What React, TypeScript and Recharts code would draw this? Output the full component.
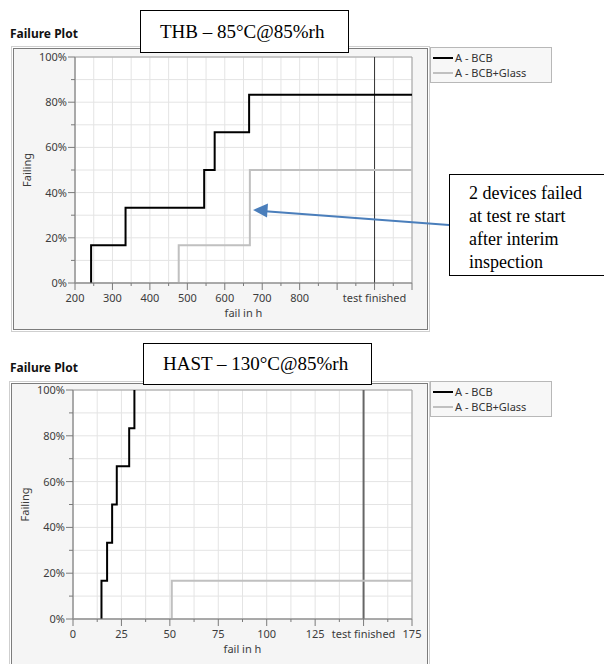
import React from "react";
import {
  LineChart,
  Line,
  XAxis,
  YAxis,
  CartesianGrid,
  ReferenceLine,
  ReferenceArea,
} from "recharts";

// THB 85°C@85%rh - cumulative failing (%) over hours
const thbBcbHours = [243, 243, 335, 545, 573, 665, 1100];
const thbBcbFailing = [0, 16.7, 33.3, 50, 66.7, 83.3, 83.3];
const thbGlassHours = [200, 477, 667, 1100];
const thbGlassFailing = [0, 16.7, 50, 50];
const thbTicks = [200, 250, 300, 350, 400, 450, 500, 550, 600, 650, 700, 750, 800, 850, 900, 950, 1000, 1050, 1100];
const thbLabelValues = [200, 300, 400, 500, 600, 700, 800, 1000];
const thbLabelTexts = ["200", "300", "400", "500", "600", "700", "800", "test finished"];

// HAST 130°C@85%rh
const hastBcbHours = [14.7, 14.7, 17.6, 20.2, 22.6, 29, 31.7];
const hastBcbFailing = [0, 16.7, 33.3, 50, 66.7, 83.3, 100];
const hastGlassHours = [0, 51, 175];
const hastGlassFailing = [0, 16.7, 16.7];
const hastTicks = [0, 12.5, 25, 37.5, 50, 62.5, 75, 87.5, 100, 112.5, 125, 137.5, 150, 162.5, 175];
const hastLabelValues = [0, 25, 50, 75, 100, 125, 150, 175];
const hastLabelTexts = ["0", "25", "50", "75", "100", "125", "test finished", "175"];

const failingTicks = [0, 10, 20, 30, 40, 50, 60, 70, 80, 90, 100];
const failingLabelValues = [0, 20, 40, 60, 80, 100];
const failingLabelTexts = ["0%", "20%", "40%", "60%", "80%", "100%"];

const seriesNames = ["A - BCB", "A - BCB+Glass"];
const seriesColors = ["#000000", "#c0c0c0"];

const FONT = "'Noto Sans', 'Open Sans', sans-serif";
const SERIF = "'Liberation Serif', 'DejaVu Serif', serif";

const toPoints = (hours: number[], failing: number[]) =>
  hours.map((h, i) => ({ h, f: failing[i] }));

const labelFor = (values: number[], texts: string[], v: number) => {
  const i = values.indexOf(v);
  return i >= 0 ? texts[i] : "";
};

function makeXTick(values: number[], texts: string[], majorStep: number) {
  return (props: any) => {
    const { x, y, payload } = props;
    const v = payload.value;
    const major = Math.abs(v / majorStep - Math.round(v / majorStep)) < 1e-6;
    const txt = labelFor(values, texts, v);
    return (
      <g>
        <line x1={x} x2={x} y1={y} y2={y + (major ? 7 : 3)} stroke="#7a7a7a" />
        {txt && (
          <text x={x} y={y + 19} textAnchor="middle" fontSize={11} fill="#3c3c3c" fontFamily={FONT}>
            {txt}
          </text>
        )}
      </g>
    );
  };
}

const yTick = (props: any) => {
  const { x, y, payload } = props;
  const v = payload.value;
  const major = v % 20 === 0;
  const txt = labelFor(failingLabelValues, failingLabelTexts, v);
  return (
    <g>
      <line x1={x - (major ? 7 : 4)} x2={x} y1={y} y2={y} stroke="#7a7a7a" />
      {txt && (
        <text x={x - 8} y={y + 4} textAnchor="end" fontSize={11} fill="#3c3c3c" fontFamily={FONT}>
          {txt}
        </text>
      )}
    </g>
  );
};

const failingTitle = (props: any) => {
  const vb = props.viewBox;
  const cx = vb.x - 4;
  const cy = vb.y + vb.height / 2;
  return (
    <text
      x={cx}
      y={cy}
      transform={`rotate(-90 ${cx} ${cy})`}
      textAnchor="middle"
      dominantBaseline="central"
      fontSize={11}
      fill="#3c3c3c"
      fontFamily={FONT}
    >
      Failing
    </text>
  );
};

const hoursTitle = (props: any) => {
  const vb = props.viewBox;
  return (
    <text
      x={vb.x + vb.width / 2}
      y={vb.y + 34}
      textAnchor="middle"
      fontSize={11}
      fill="#3c3c3c"
      fontFamily={FONT}
    >
      fail in h
    </text>
  );
};

interface PlotProps {
  left: number;
  top: number;
  width: number;
  height: number;
  margin: { top: number; right: number; bottom: number; left: number };
  domain: [number, number];
  ticks: number[];
  labelValues: number[];
  labelTexts: string[];
  majorStep: number;
  bcb: { h: number; f: number }[];
  glass: { h: number; f: number }[];
  finishAt: number;
  finishWidth: number;
  finishColor: string;
}

function FailurePlot(p: PlotProps) {
  return (
    <div style={{ position: "absolute", left: p.left, top: p.top }}>
      <LineChart width={p.width} height={p.height} margin={p.margin}>
        <CartesianGrid stroke="#e4e4e4" fill="#ffffff" />
        <XAxis
          type="number"
          dataKey="h"
          domain={p.domain}
          ticks={p.ticks}
          allowDataOverflow
          height={30}
          tickSize={0}
          tickMargin={0}
          tickLine={false}
          axisLine={{ stroke: "#8a8a8a" }}
          tick={makeXTick(p.labelValues, p.labelTexts, p.majorStep)}
          interval={0}
          label={hoursTitle}
        />
        <YAxis
          type="number"
          dataKey="f"
          domain={[0, 100]}
          ticks={failingTicks}
          width={45}
          tickSize={0}
          tickMargin={0}
          tickLine={false}
          axisLine={{ stroke: "#8a8a8a" }}
          tick={yTick}
          interval={0}
          label={failingTitle}
        />
        <ReferenceArea
          x1={p.domain[0]}
          x2={p.domain[1]}
          y1={0}
          y2={100}
          fill="none"
          stroke="#a0a0a0"
        />
        <ReferenceLine x={p.finishAt} stroke={p.finishColor} strokeWidth={p.finishWidth} />
        <Line
          data={p.glass}
          dataKey="f"
          type="stepAfter"
          stroke={seriesColors[1]}
          strokeWidth={2}
          dot={false}
          isAnimationActive={false}
          name={seriesNames[1]}
        />
        <Line
          data={p.bcb}
          dataKey="f"
          type="stepAfter"
          stroke={seriesColors[0]}
          strokeWidth={2}
          dot={false}
          isAnimationActive={false}
          name={seriesNames[0]}
        />
      </LineChart>
    </div>
  );
}

function Frame({ left, top, width, height }: { left: number; top: number; width: number; height: number }) {
  return (
    <div
      style={{
        position: "absolute",
        left,
        top,
        width,
        height,
        boxSizing: "border-box",
        border: "1px solid #cfcfcf",
        padding: 1,
      }}
    >
      <div
        style={{
          width: "100%",
          height: "100%",
          boxSizing: "border-box",
          border: "1px solid #7c7c7c",
          background: "#f5f5f5",
        }}
      />
    </div>
  );
}

function LegendBox({ left, top }: { left: number; top: number }) {
  return (
    <div
      style={{
        position: "absolute",
        left,
        top,
        width: 122,
        height: 36,
        boxSizing: "border-box",
        border: "1px solid #b8b8b8",
        background: "#f7f7f7",
        fontFamily: FONT,
        fontSize: 11,
        color: "#333",
        paddingTop: 2,
      }}
    >
      {seriesNames.map((n, i) => (
        <div key={n} style={{ display: "flex", alignItems: "center", height: 15 }}>
          <span
            style={{
              display: "inline-block",
              width: 20,
              height: 0,
              borderTop: `2px solid ${seriesColors[i]}`,
              marginLeft: 2,
              marginRight: 2,
            }}
          />
          <span>{n}</span>
        </div>
      ))}
    </div>
  );
}

function TitleBox({ left, top, width, height, text }: { left: number; top: number; width: number; height: number; text: string }) {
  return (
    <div
      style={{
        position: "absolute",
        left,
        top,
        width,
        height,
        boxSizing: "border-box",
        border: "1.5px solid #000",
        background: "#fff",
        fontFamily: SERIF,
        fontSize: 19,
        display: "flex",
        alignItems: "center",
        paddingLeft: 19,
        whiteSpace: "nowrap",
      }}
    >
      {text}
    </div>
  );
}

const plotTitle: React.CSSProperties = {
  position: "absolute",
  left: 10,
  fontFamily: FONT,
  fontWeight: 700,
  fontSize: 12,
  lineHeight: "14px",
  color: "#111",
};

export default function App() {
  return (
    <div
      style={{
        position: "absolute",
        left: 0,
        top: 0,
        width: 604,
        height: 664,
        overflow: "hidden",
        background: "#fff",
      }}
    >
      {/* THB */}
      <div style={{ ...plotTitle, top: 27 }}>Failure Plot</div>
      <Frame left={11} top={46} width={419} height={286} />
      <FailurePlot
        left={12}
        top={47}
        width={415}
        height={283}
        margin={{ top: 10, right: 15, bottom: 17, left: 18 }}
        domain={[200, 1100]}
        ticks={thbTicks}
        labelValues={thbLabelValues}
        labelTexts={thbLabelTexts}
        majorStep={100}
        bcb={toPoints(thbBcbHours, thbBcbFailing)}
        glass={toPoints(thbGlassHours, thbGlassFailing)}
        finishAt={1000}
        finishWidth={1}
        finishColor="#333"
      />
      <LegendBox left={430} top={47} />
      <TitleBox left={140} top={10} width={209} height={43} text="THB – 85°C@85%rh" />

      {/* HAST */}
      <div style={{ ...plotTitle, top: 361 }}>Failure Plot</div>
      <Frame left={9} top={381} width={421} height={300} />
      <FailurePlot
        left={10}
        top={382}
        width={417}
        height={282}
        margin={{ top: 8, right: 15, bottom: 15, left: 18 }}
        domain={[0, 175]}
        ticks={hastTicks}
        labelValues={hastLabelValues}
        labelTexts={hastLabelTexts}
        majorStep={25}
        bcb={toPoints(hastBcbHours, hastBcbFailing)}
        glass={toPoints(hastGlassHours, hastGlassFailing)}
        finishAt={150}
        finishWidth={2}
        finishColor="#666"
      />
      <LegendBox left={430} top={381} />
      <TitleBox left={143} top={343} width={229} height={42} text="HAST – 130°C@85%rh" />

      {/* annotation arrow + note */}
      <svg
        width={604}
        height={664}
        style={{ position: "absolute", left: 0, top: 0, pointerEvents: "none" }}
      >
        <line x1={449} y1={225} x2={262} y2={211} stroke="#4a7ebb" strokeWidth={2} />
        <path d="M253,210 L268,203.5 L267,217.5 z" fill="#4a7ebb" />
      </svg>
      <div
        style={{
          position: "absolute",
          left: 449,
          top: 174,
          width: 160,
          height: 102,
          boxSizing: "border-box",
          border: "1.5px solid #000",
          background: "#fff",
          fontFamily: SERIF,
          fontSize: 18,
          lineHeight: "23px",
          padding: "7px 0 0 19px",
          color: "#000",
        }}
      >
        2 devices failed
        <br />
        at test re start
        <br />
        after interim
        <br />
        inspection
      </div>
    </div>
  );
}
